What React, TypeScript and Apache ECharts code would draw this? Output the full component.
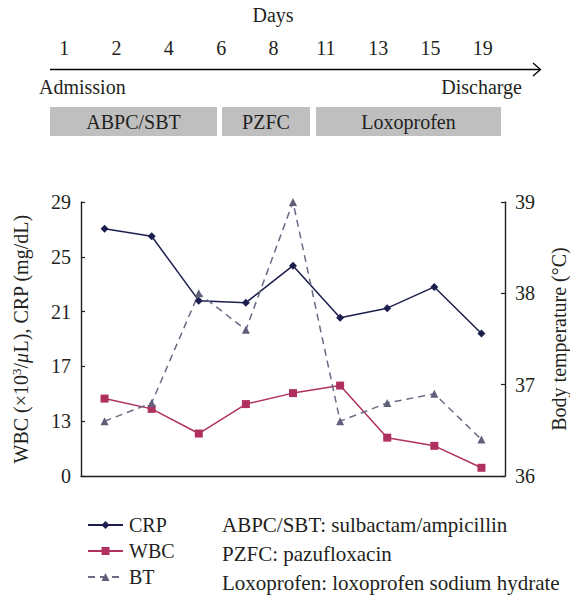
import React, { useEffect, useRef } from "react";
import * as echarts from "echarts";

const days = ["1", "2", "4", "6", "8", "11", "13", "15", "19"];
const crp = [27.05, 26.5, 21.8, 21.65, 24.35, 20.55, 21.25, 22.8, 19.4];
const wbc = [14.65, 13.9, 12.1, 14.25, 15.05, 15.6, 11.8, 11.2, 9.6];
const bt = [36.6, 36.8, 38.0, 37.6, 39.0, 36.6, 36.8, 36.9, 36.4];
const drugs = ["ABPC/SBT", "PZFC", "Loxoprofen"];
const notes = [
  "ABPC/SBT: sulbactam/ampicillin",
  "PZFC: pazufloxacin",
  "Loxoprofen: loxoprofen sodium hydrate",
];

const FONT = "Liberation Serif";
const FS = 20;
const TXT = "#231f20";

export default function App() {
  const ref = useRef<HTMLDivElement>(null);
  useEffect(() => {
    if (!ref.current) return;
    const chart = echarts.init(ref.current, null, { renderer: "svg" });

    const drugBoxes = [
      { x: 50, w: 167 },
      { x: 222, w: 88 },
      { x: 316, w: 185 },
    ];
    const noteY = [525, 554, 583];
    const font = `${FS}px "${FONT}"`;
    const noteFont = `21px "${FONT}"`;

    const graphic: any[] = [
      {
        type: "text",
        x: 273,
        y: 15,
        style: { text: "Days", font, fill: TXT, textAlign: "center", textVerticalAlign: "middle", align: "center", verticalAlign: "middle" },
      },
      {
        type: "line",
        shape: { x1: 50, y1: 69.5, x2: 540, y2: 69.5 },
        style: { stroke: "#000", lineWidth: 1.4 },
      },
      {
        type: "polyline",
        shape: { points: [[533, 63], [540.5, 69.5], [533, 76]] },
        style: { stroke: "#000", lineWidth: 1.3, fill: "none" },
      },
      {
        type: "text",
        x: 39,
        y: 87,
        style: { text: "Admission", font, fill: TXT, textAlign: "left", textVerticalAlign: "middle", align: "left", verticalAlign: "middle" },
      },
      {
        type: "text",
        x: 522,
        y: 87,
        style: { text: "Discharge", font, fill: TXT, textAlign: "right", textVerticalAlign: "middle", align: "right", verticalAlign: "middle" },
      },
      ...drugs.map((d, i) => ({
        type: "group",
        children: [
          {
            type: "rect",
            shape: { x: drugBoxes[i].x, y: 107, width: drugBoxes[i].w, height: 29 },
            style: { fill: "#bfbfbf" },
          },
          {
            type: "text",
            x: drugBoxes[i].x + drugBoxes[i].w / 2,
            y: 122,
            style: { text: d, font, fill: TXT, textAlign: "center", textVerticalAlign: "middle", align: "center", verticalAlign: "middle" },
          },
        ],
      })),
      ...notes.map((n, i) => ({
        type: "text",
        x: 222,
        y: noteY[i],
        style: { text: n, font: noteFont, fill: TXT, textAlign: "left", textVerticalAlign: "middle", align: "left", verticalAlign: "middle" },
      })),
    ];

    const axisLine = { lineStyle: { color: "#231f20", width: 1.4 } };

    chart.setOption({
      animation: false,
      textStyle: { fontFamily: FONT, color: TXT },
      grid: [
        { left: 81, right: 65, top: 202, bottom: 126, outerBoundsMode: "none", containLabel: false },
        { left: 38, right: 61, top: 0, height: 69.5, outerBoundsMode: "none", containLabel: false },
      ],
      legend: {
        orient: "vertical",
        left: 82,
        top: 510,
        itemWidth: 35,
        itemHeight: 10,
        itemGap: 6,
        data: ["CRP", "WBC", "BT"],
        textStyle: { fontFamily: FONT, fontSize: FS, color: TXT, padding: [0, 0, 0, 1], lineHeight: 20 },
      },
      xAxis: [
        {
          type: "category",
          gridIndex: 0,
          data: days,
          boundaryGap: true,
          axisLine,
          axisTick: { inside: true, length: 4, lineStyle: { color: "#231f20", width: 1.2 } },
          axisLabel: { show: false },
        },
        {
          type: "category",
          gridIndex: 1,
          data: days,
          position: "bottom",
          axisLine: { show: false },
          axisTick: { show: false },
          axisLabel: { inside: true, margin: 12, fontSize: FS, fontFamily: FONT, color: TXT },
        },
      ],
      yAxis: [
        {
          type: "value",
          gridIndex: 0,
          min: 9,
          max: 29,
          interval: 4,
          axisLine: { show: true, ...axisLine },
          axisTick: { show: true, inside: true, length: 4, lineStyle: { color: "#231f20", width: 1.2 } },
          splitLine: { show: false },
          axisLabel: {
            fontSize: FS,
            fontFamily: FONT,
            color: TXT,
            margin: 10,
            formatter: (v: number) => (v === 9 ? "0" : String(v)),
          },
          name: "WBC (×10{sup|3}/{it|μ}L), CRP (mg/dL)",
          nameLocation: "middle",
          nameGap: 50,
          nameRotate: 90,
          nameTextStyle: {
            fontSize: FS,
            fontFamily: FONT,
            color: TXT,
            rich: {
              sup: { fontSize: 13, fontFamily: FONT, color: TXT, verticalAlign: "top", padding: [0, 0, 8, 0] },
              it: { fontSize: FS, fontFamily: FONT, fontStyle: "italic", color: TXT },
            },
          },
        },
        {
          type: "value",
          gridIndex: 0,
          position: "right",
          min: 36,
          max: 39,
          interval: 1,
          axisLine: { show: true, ...axisLine },
          axisTick: { show: true, inside: true, length: 4, lineStyle: { color: "#231f20", width: 1.2 } },
          splitLine: { show: false },
          axisLabel: { fontSize: FS, fontFamily: FONT, color: TXT, margin: 10 },
          name: "Body temperature (°C)",
          nameLocation: "middle",
          nameGap: 44,
          nameRotate: 90,
          nameTextStyle: { fontSize: FS, fontFamily: FONT, color: TXT },
        },
        {
          type: "value",
          gridIndex: 1,
          show: false,
        },
      ],
      series: [
        {
          name: "CRP",
          type: "line",
          xAxisIndex: 0,
          yAxisIndex: 0,
          data: crp,
          symbol: "diamond",
          symbolSize: 8,
          itemStyle: { color: "#1c1f4e" },
          lineStyle: { color: "#1c1f4e", width: 1.5 },
        },
        {
          name: "WBC",
          type: "line",
          xAxisIndex: 0,
          yAxisIndex: 0,
          data: wbc,
          symbol: "rect",
          symbolSize: 8,
          itemStyle: { color: "#b03060" },
          lineStyle: { color: "#b03060", width: 1.5 },
        },
        {
          name: "BT",
          type: "line",
          xAxisIndex: 0,
          yAxisIndex: 1,
          data: bt,
          symbol: "triangle",
          symbolSize: 8,
          itemStyle: { color: "#5f5f7a" },
          lineStyle: { color: "#6a6a85", width: 1.5, type: [7, 5] },
        },
      ],
      graphic,
    });
    return () => chart.dispose();
  }, []);
  return <div ref={ref} style={{ width: 570, height: 602, position: "absolute", left: 0, top: 0 }} />;
}
